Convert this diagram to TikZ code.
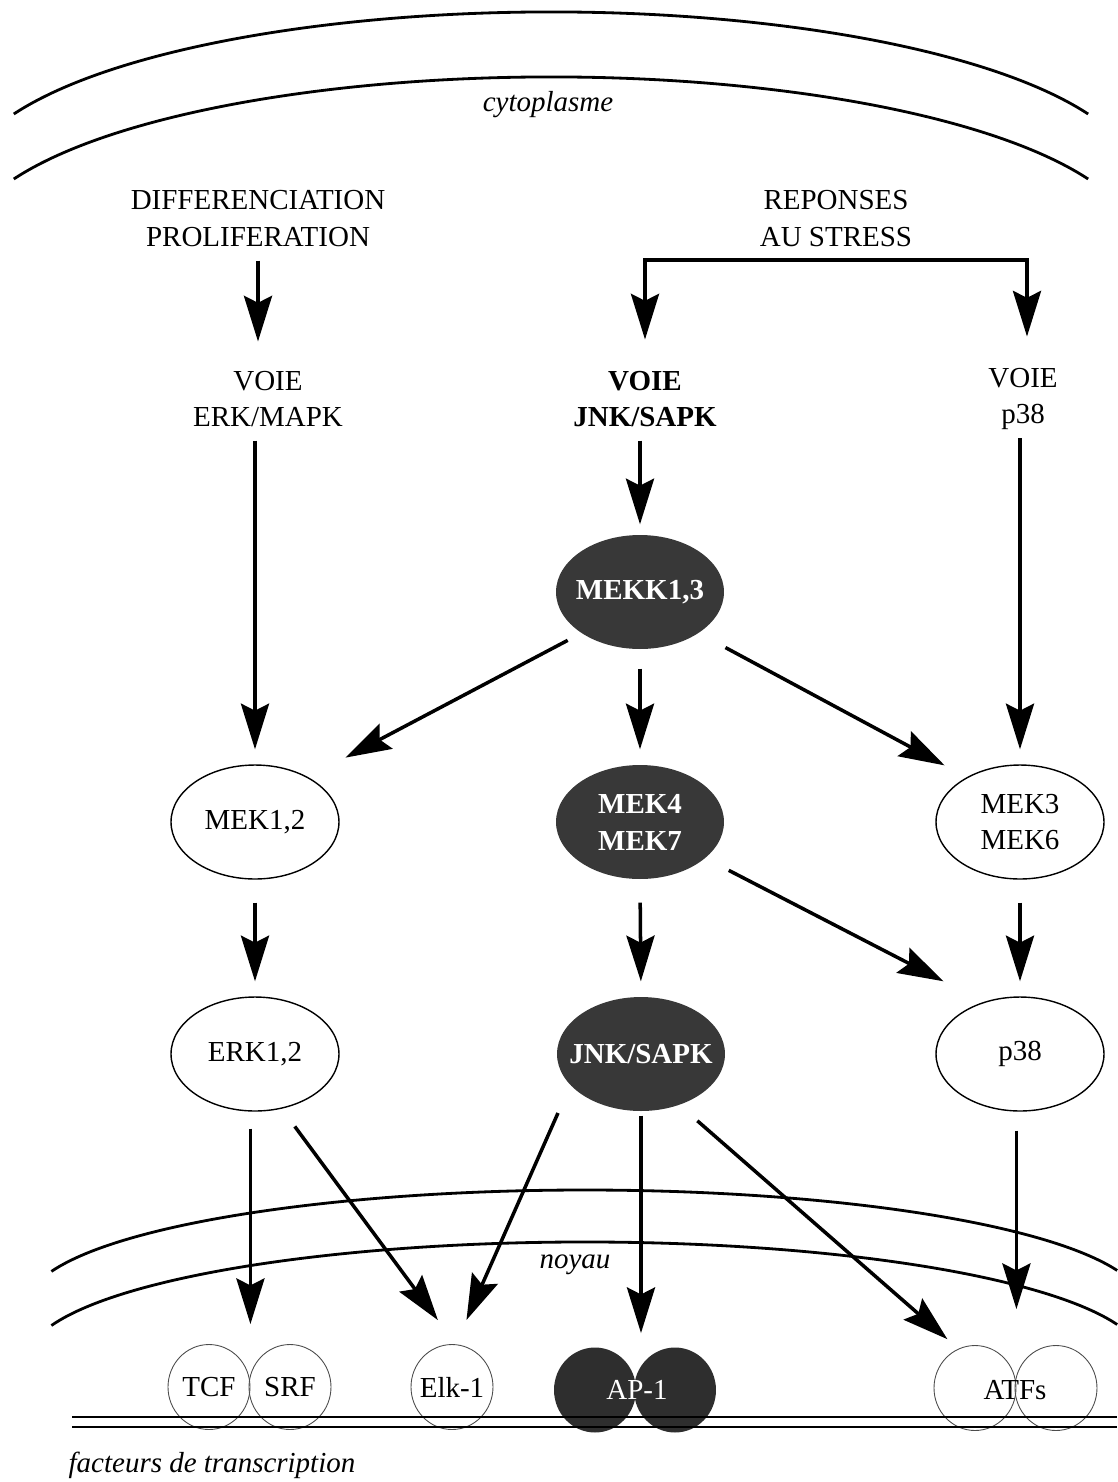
\documentclass[tikz,border=0pt]{standalone}
\usepackage{fontspec}
\setmainfont{Liberation Serif}
\usetikzlibrary{shapes.geometric, arrows.meta}

\newcommand{\nw}[1]{\makebox[0pt]{#1}}

\begin{document}
\begin{tikzpicture}[x=0.02cm, y=0.02cm,
  font=\fontsize{16.5}{21}\selectfont,
  txt/.style={align=center, inner sep=0pt},
  lab/.style={font=\fontsize{16.5}{21}\selectfont\itshape},
  kin/.style={draw, ellipse, line width=0.8pt, minimum width=3.36cm, minimum height=2.28cm, inner sep=0pt},
  dark/.style={kin, draw=none, fill=black!78, text=white, font=\fontsize{16.5}{21}\selectfont\bfseries},
  tf/.style={draw=black!70, ellipse, line width=0.5pt, minimum width=1.64cm, minimum height=1.7cm, inner sep=0pt},
  tfdark/.style={tf, draw=none, fill=black!82},
  arr/.style={line width=2pt, -{Stealth[length=26pt, width=16pt, inset=4pt]}},
  vs/.style={shorten <=0.46cm, shorten >=0.3cm},
  memb/.style={line width=1.6pt}]

  \useasboundingbox (0,0) rectangle (1117,-1482);

  % membranes
  \draw[memb] (13.8,-114) arc[start angle=156, end angle=24, x radius=588, y radius=172];
  \draw[memb] (13.8,-179) arc[start angle=156, end angle=24, x radius=588, y radius=172];
  \draw[memb] (51.4,-1271.4) arc[start angle=163, end angle=17.5, x radius=558, y radius=115];
  \draw[memb] (51.4,-1325.5) arc[start angle=163, end angle=17.5, x radius=558, y radius=118];

  \node[lab] (cyto) at (548,-105) {cytoplasme};
  \node[lab] (noyau) at (575,-1265) {noyau};
  \node[lab] (facteurs) at (212,-1465) {facteurs de transcription};

  % voies
  \node[txt] (diff) at (258,-218.5) {DIFFERENCIATION\\PROLIFERATION};
  \node[txt] (stress) at (836,-218.5) {REPONSES\\AU STRESS};
  \node[txt] (voieerk) at (268,-399) {VOIE\\ERK/MAPK};
  \node[txt, font=\fontsize{16.5}{21}\selectfont\bfseries] (voiejnk) at (645,-399) {VOIE\\JNK/SAPK};
  \node[txt] (voiep38) at (1023,-399) {VOIE\\p38};

  % kinases
  \node[dark] (mekk) at (640,-592) {\nw{MEKK1,3}};
  \node[kin] (mek12) at (255,-822) {MEK1,2};
  \node[dark, align=center] (mek47) at (640,-822) {MEK4\\MEK7};
  \node[kin, align=center] (mek36) at (1020,-822) {MEK3\\MEK6};
  \node[kin] (erk12) at (255,-1054) {ERK1,2};
  \node[dark] (jnk) at (641,-1054) {\nw{JNK/SAPK}};
  \node[kin] (p38) at (1020,-1054) {p38};

  % facteurs de transcription
  \node[tf] (tcf) at (209,-1387) {TCF};
  \node[tf] (srf) at (290,-1387) {SRF};
  \node[tf] (elk) at (452,-1387) {\nw{Elk-1}};
  \node[tfdark] (ap1a) at (595,-1390) {};
  \node[tfdark] (ap1b) at (675,-1390) {};
  \node[text=white] (ap1) at (637,-1390) {AP-1};
  \node[tf] (atfa) at (975,-1388) {};
  \node[tf] (atfb) at (1056,-1388) {};
  \node (atfs) at (1015,-1390) {ATFs};

  \draw[line width=1.2pt] (72,-1417) -- (1117,-1417);
  \draw[line width=0.9pt] (72,-1427) -- (1117,-1427);

  % fleches
  \coordinate (bl) at (645,-260);
  \coordinate (br) at (1027,-260);
  \draw[line width=2pt, line cap=rect] (bl) -- (br);
  \draw[arr, shorten >=0.62cm] (bl) -- (bl |- voiejnk.north);
  \draw[arr, shorten >=0.62cm] (br) -- (br |- voiep38.north);
  \draw[arr, shorten <=0.27cm, shorten >=0.58cm] (diff.south) -- (diff.south |- voieerk.north);

  \draw[arr, shorten <=0.26cm, shorten >=0.3cm] (voieerk.south -| mek12) -- (mek12.north);
  \draw[arr, shorten <=0.26cm, shorten >=0.2cm] (voiejnk.south -| mekk) -- (mekk.north);
  \draw[arr, shorten <=0.16cm, shorten >=0.3cm] (voiep38.south -| mek36) -- (mek36.north);

  \draw[arr, shorten <=0.38cm, shorten >=0.3cm] (mekk.south) -- (mek47.north);
  \draw[arr, shorten <=0.3cm, shorten >=0.84cm] (mekk.215) -- (mek12.40);
  \draw[arr, shorten <=0.6cm, shorten >=0.5cm] (mekk.325) -- (mek36.140);

  \draw[arr, vs] (mek12.south) -- (erk12.north);
  \draw[arr, vs] (mek47.south) -- (jnk.north);
  \draw[arr, vs] (mek36.south) -- (p38.north);
  \draw[arr, shorten <=0.52cm, shorten >=0.9cm] (mek47.331) -- (p38.125);

  \draw[arr, shorten <=0.34cm, shorten >=0.4cm] (tcf.east |- erk12.south) -- (tcf.east |- tcf.north);
  \draw[arr, shorten <=0.44cm, shorten >=0.6cm] (erk12.296) -- (elk.85);
  \draw[arr, shorten <=0.6cm, shorten >=0.53cm] (jnk.204) -- (elk.85);
  \draw[arr, shorten <=0.08cm, shorten >=0.28cm] (jnk.south) -- (jnk.south |- ap1a.north);
  \draw[arr, shorten <=0.47cm, shorten >=0.29cm] (jnk.307) -- (atfa.113);
  \draw[arr, shorten <=0.38cm, shorten >=0.72cm] (atfa.east |- p38.south) -- (atfa.east |- atfa.north);
\end{tikzpicture}
\end{document}
